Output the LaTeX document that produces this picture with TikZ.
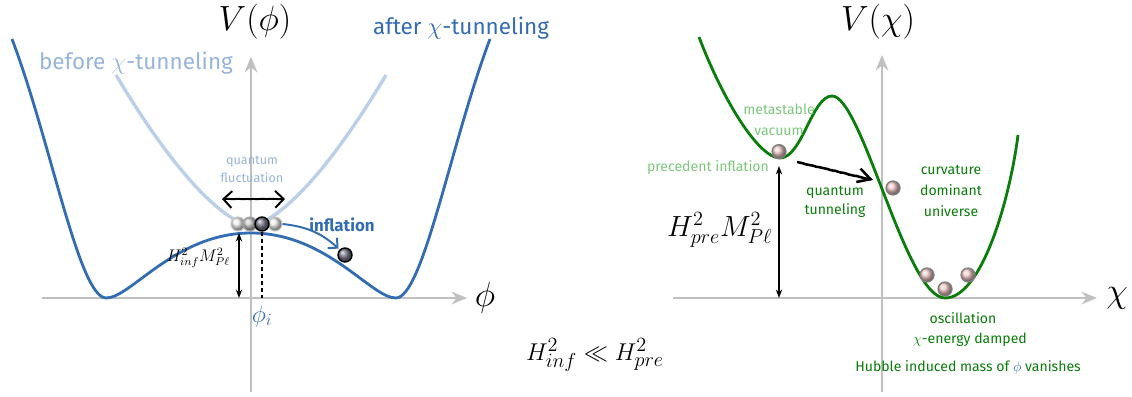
\documentclass[tikz,border=0pt]{standalone}
\usepackage{fontspec}
\setmainfont{Fira Sans}
\usetikzlibrary{calc,positioning,arrows.meta,decorations.pathmorphing}
\definecolor{pblue}{RGB}{52,108,178}
\definecolor{plight}{RGB}{188,207,232}
\definecolor{ptext}{RGB}{150,180,220}
\definecolor{pgreen}{RGB}{10,125,10}
\definecolor{plgreen}{RGB}{125,200,125}
\definecolor{paxis}{RGB}{192,192,192}
\definecolor{ppink}{RGB}{240,200,200}
\definecolor{pslate}{RGB}{120,120,138}

\begin{document}
\begin{tikzpicture}[
  font=\footnotesize,
  axis/.style={paxis,line width=2pt,-{Stealth[length=11pt,width=9pt]}},
  after/.style={pblue,line width=2pt},
  before/.style={plight,line width=2.4pt},
  pot/.style={pgreen,line width=2pt},
  dball/.style={circle,draw=black,line width=1pt,shading=ball,ball color=pslate,minimum size=0.35cm,inner sep=0pt},
  mball/.style={circle,draw=gray!70,line width=0.8pt,shading=ball,ball color=gray!45,minimum size=0.35cm,inner sep=0pt},
  gball/.style={circle,draw=gray!45,line width=0.8pt,shading=ball,ball color=gray!15,minimum size=0.35cm,inner sep=0pt},
  pball/.style={circle,draw=gray,line width=0.9pt,shading=ball,ball color=ppink,minimum size=0.35cm,inner sep=0pt},
  height/.style={black,line width=1pt,{Stealth[length=6pt]}-{Stealth[length=6pt]}},
  ink/.style={black,line width=1.4pt,decorate,decoration={random steps,segment length=2pt,amplitude=0.2pt}},
  big/.style={font=\fontsize{16}{19}\selectfont},
  lab/.style={font=\normalsize,align=center}]

\useasboundingbox (0,0) rectangle (28.3,9.9);

% ---- left panel: V(phi) ----
\begin{scope}[shift={(6.275,2.45)}]
  \coordinate (xl1) at (-5.225,0); \coordinate (xr1) at (5.4,0);
  \coordinate (yb1) at (0,-2.35); \coordinate (yt1) at (0,6.03);
  \draw[axis] (xl1) -- (xr1);
  \draw[axis] (yb1) -- (yt1);
  \node[font=\Huge] (vphi) at (0.1,6.9) {$V(\phi)$};
  \node[font=\Huge] (phi) at (5.85,0) {$\phi$};

  % before / after
  \draw[before] plot[domain=-3.375:3.375,samples=80] (\x,{1.8+0.609*pow(abs(\x),1.5)});
  \draw[after] (-5.975,6.475) .. controls (-5.0,3.9) and (-4.3,0) .. (-3.62,0)
    .. controls (-3.0,0) and (-1.9,1.625) .. (0,1.625)
    .. controls (1.9,1.625) and (3.0,0) .. (3.62,0)
    .. controls (4.3,0) and (5.0,3.9) .. (5.975,6.475);
  \node[ptext,big] (beforelab) at (-2.875,5.875) {before $\chi$-tunneling};
  \node[pblue,big] (afterlab) at (5.25,6.75) {after $\chi$-tunneling};

  % height of the hill
  \coordinate (hb1) at (-0.3,0); \coordinate (ht1) at (-0.3,1.625);
  \draw[height] (hb1) -- (ht1);
  \node[font=\large,anchor=east] (hinf) at (-0.4,1.0) {$H^2_{inf}M^2_{P\ell}$};

  % quantum fluctuation
  \coordinate (qfl) at (-0.725,2.475); \coordinate (qfr) at (0.85,2.475);
  \draw[ink,{Straight Barb[length=6pt]}-{Straight Barb[length=6pt]}] (qfl) -- (qfr);
  \node[ptext,font=\small,align=center] (qfluct) at (0.025,3.21) {quantum\\[2pt]fluctuation};

  % balls
  \node[gball] (b1) at (-0.325,1.85) {};
  \node[gball] (b4) at (0.6,1.85) {};
  \node[mball] (b2) at (-0.025,1.85) {};
  \node[dball] (phii) at (0.275,1.85) {};
  \node[dball] (rolled) at (2.35,1.075) {};
  \coordinate (phiax) at (0.275,0);
  \draw[black,line width=0.9pt,densely dashed] (phii.south) -- (phiax);
  \node[pblue,font=\LARGE] (philab) at (0.275,-0.45) {$\phi_i$};

  % inflation
  \draw[pblue,line width=1.4pt,-{Straight Barb[length=5pt]},shorten >=1pt] (b4.east) to[bend left=18] (rolled.north west);
  \node[pblue,font=\large\bfseries] (infl) at (2.275,1.825) {inflation};
\end{scope}

% middle
\node[font=\fontsize{19}{23}\selectfont] (ineq) at (14.875,1.025) {$H^2_{inf}\ll H^2_{pre}$};

% ---- right panel: V(chi) ----
\begin{scope}[shift={(22.05,2.45)}]
  \coordinate (xl2) at (-5.225,0); \coordinate (xr2) at (5.375,0);
  \coordinate (yb2) at (0,-2.35); \coordinate (yt2) at (0,6.075);
  \draw[axis] (xl2) -- (xr2);
  \draw[axis] (yb2) -- (yt2);
  \node[font=\Huge] (vchi) at (-0.1,6.9) {$V(\chi)$};
  \node[font=\Huge] (chi) at (5.875,0) {$\chi$};

  \draw[pot] (-4.575,6.525) .. controls (-4.0,5.0) and (-3.1,3.5) .. (-2.55,3.5)
    .. controls (-2.0,3.5) and (-1.75,5.05) .. (-1.25,5.05)
    .. controls (-0.5,5.05) and (0.6,0) .. (1.575,0)
    .. controls (2.5,0) and (3.2,2.5) .. (3.4,4.075);

  % false vacuum
  \node[pball] (meta) at (-2.575,3.66) {};
  \node[plgreen,lab] (metalab) at (-2.575,4.46) {metastable\\[3pt]vacuum};
  \node[plgreen,lab] (prec) at (-4.35,3.25) {precedent inflation};
  \coordinate (hb2) at (-2.575,0); \coordinate (ht2) at (-2.575,3.3);
  \draw[height] (hb2) -- (ht2);
  \node[font=\huge,anchor=east] (hpre) at (-2.62,1.7) {$H^2_{pre}M^2_{P\ell}$};

  % tunneling
  \node[pball] (exit) at (0.275,2.75) {};
  \coordinate (tfrom) at (-2.125,3.4); \coordinate (tto) at (-0.225,2.95);
  \draw[ink,line width=1.8pt,-{Straight Barb[length=9pt,width=10pt]}] (tfrom) -- (tto);
  \node[pgreen,lab] (qtun) at (-1.175,2.4) {quantum\\[2pt]tunneling};
  \node[pgreen,lab] (cdu) at (1.725,2.675) {curvature\\[3pt]dominant\\[3pt]universe};

  % oscillation
  \node[pball] (o1) at (1.125,0.575) {};
  \node[pball] (o3) at (2.15,0.575) {};
  \node[pball] (o2) at (1.575,0.225) {};
  \node[pgreen,lab] (osc) at (2.025,-0.5) {oscillation};
  \node[pgreen,lab] (damp) at (2.2,-1.05) {$\chi$-energy damped};
  \node[pgreen,lab] (hubble) at (2.15,-1.725) {Hubble induced mass of {\color{pblue}$\phi$} vanishes};
\end{scope}
\end{tikzpicture}
\end{document}
